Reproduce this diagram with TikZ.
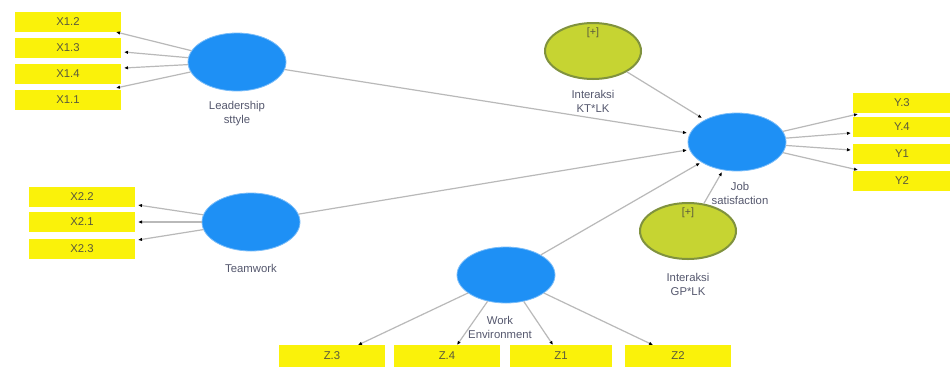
\documentclass[tikz,border=0pt]{standalone}
\usepackage{fontspec}
\setmainfont{Liberation Sans}
\usetikzlibrary{shapes.geometric,arrows.meta}
\definecolor{boxyel}{RGB}{250,242,10}
\definecolor{latblue}{RGB}{30,144,245}
\definecolor{intgreen}{RGB}{198,212,50}
\definecolor{intborder}{RGB}{128,146,62}
\definecolor{pathgray}{RGB}{185,185,185}
\definecolor{labtext}{RGB}{85,88,110}
\definecolor{boxtext}{RGB}{90,90,60}
\tikzset{
  indbox/.style={rectangle,fill=boxyel,draw=none,inner sep=0pt,minimum height=15pt,font=\fontsize{8.5}{9}\selectfont,text=boxtext},
  latvar/.style={ellipse,fill=latblue,draw=latblue!60!white,line width=0.6pt,inner sep=0pt,minimum width=73.5pt,minimum height=43.5pt},
  intvar/.style={ellipse,fill=intgreen,draw=intborder,line width=1.5pt,inner sep=0pt,minimum width=72pt,minimum height=42pt},
  lab/.style={font=\fontsize{8.5}{10.5}\selectfont,text=labtext,align=center,inner sep=0pt},
  conn/.style={draw=pathgray,line width=0.9pt,-{Latex[black,length=3pt,width=2.6pt]}},
  plus/.style={font=\fontsize{8}{8}\selectfont,text=boxtext,inner sep=0pt}
}
\begin{document}
\begin{tikzpicture}[x=0.75pt,y=-0.75pt]
\useasboundingbox (0,0) rectangle (950,369);
\fill[white] (0,0) rectangle (950,369);
% indicator boxes X1
\node[indbox,minimum width=80pt] (x12) at (68,22) {X1.2};
\node[indbox,minimum width=80pt] (x13) at (68,48) {X1.3};
\node[indbox,minimum width=80pt] (x14) at (68,74) {X1.4};
\node[indbox,minimum width=80pt] (x11) at (68,100) {X1.1};
% X2
\node[indbox,minimum width=79.5pt] (x22) at (82,197) {X2.2};
\node[indbox,minimum width=79.5pt] (x21) at (82,222) {X2.1};
\node[indbox,minimum width=79.5pt] (x23) at (82,249) {X2.3};
% Y
\node[indbox,minimum width=74pt] (y3) at (902,103) {Y.3};
\node[indbox,minimum width=74pt] (y4) at (902,127) {Y.4};
\node[indbox,minimum width=74pt] (y1) at (902,154) {Y1};
\node[indbox,minimum width=74pt] (y2) at (902,181) {Y2};
% Z
\node[indbox,minimum width=79pt,minimum height=16pt] (z3) at (332,356) {Z.3};
\node[indbox,minimum width=79pt,minimum height=16pt] (z4) at (447,356) {Z.4};
\node[indbox,minimum width=77pt,minimum height=16pt] (z1) at (561,356) {Z1};
\node[indbox,minimum width=80pt,minimum height=16pt] (z2) at (678,356) {Z2};
% latent variables
\node[latvar] (lead) at (237,62) {};
\node[latvar] (team) at (251,222) {};
\node[latvar] (job) at (737,142) {};
\node[latvar,minimum height=42pt] (work) at (506,275) {};
\node[intvar] (kt) at (593,51) {};
\node[intvar] (gp) at (688,231) {};
\node[plus] (ktp) at (593,33) {[+]};
\node[plus] (gpp) at (688,213) {[+]};
% labels
\node[lab] (leadl) at (237,114) {Leadership\\sttyle};
\node[lab] (teaml) at (251,268) {Teamwork};
\node[lab] (jobl) at (740,193) {Job\\satisfaction};
\node[lab] (ktl) at (593,101) {Interaksi\\KT*LK};
\node[lab] (gpl) at (688,284) {Interaksi\\GP*LK};
\node[lab] (workl) at (500,327) {Work\\Environment};
% endpoints
\coordinate (ex12) at (116,32);
\coordinate (ex13) at (124,52);
\coordinate (ex14) at (124,68);
\coordinate (ex11) at (116,88);
\coordinate (ex22) at (138,205);
\coordinate (ex21) at (138,222);
\coordinate (ex23) at (138,240);
\coordinate (ey3) at (858,114);
\coordinate (ey4) at (851,133);
\coordinate (ey1) at (851,150);
\coordinate (ey2) at (858,170);
\coordinate (ez3) at (358,345);
\coordinate (ez4) at (457,345);
\coordinate (ez1) at (553,345);
\coordinate (ez2) at (653,345);
\coordinate (j1) at (687,133);
\coordinate (j2) at (687,150);
\coordinate (j3) at (702,118);
\coordinate (j4) at (700,163);
\coordinate (j5) at (722,172);
% measurement paths
\foreach \e in {ex12,ex13,ex14,ex11} \draw[conn] (lead) -- (\e);
\foreach \e in {ex22,ex21,ex23} \draw[conn] (team) -- (\e);
\foreach \e in {ey3,ey4,ey1,ey2} \draw[conn] (job) -- (\e);
\foreach \e in {ez3,ez4,ez1,ez2} \draw[conn] (work) -- (\e);
% structural paths
\draw[conn] (lead) -- (j1);
\draw[conn] (team) -- (j2);
\draw[conn] (kt) -- (j3);
\draw[conn] (work) -- (j4);
\draw[conn] (gp) -- (j5);
\end{tikzpicture}
\end{document}
